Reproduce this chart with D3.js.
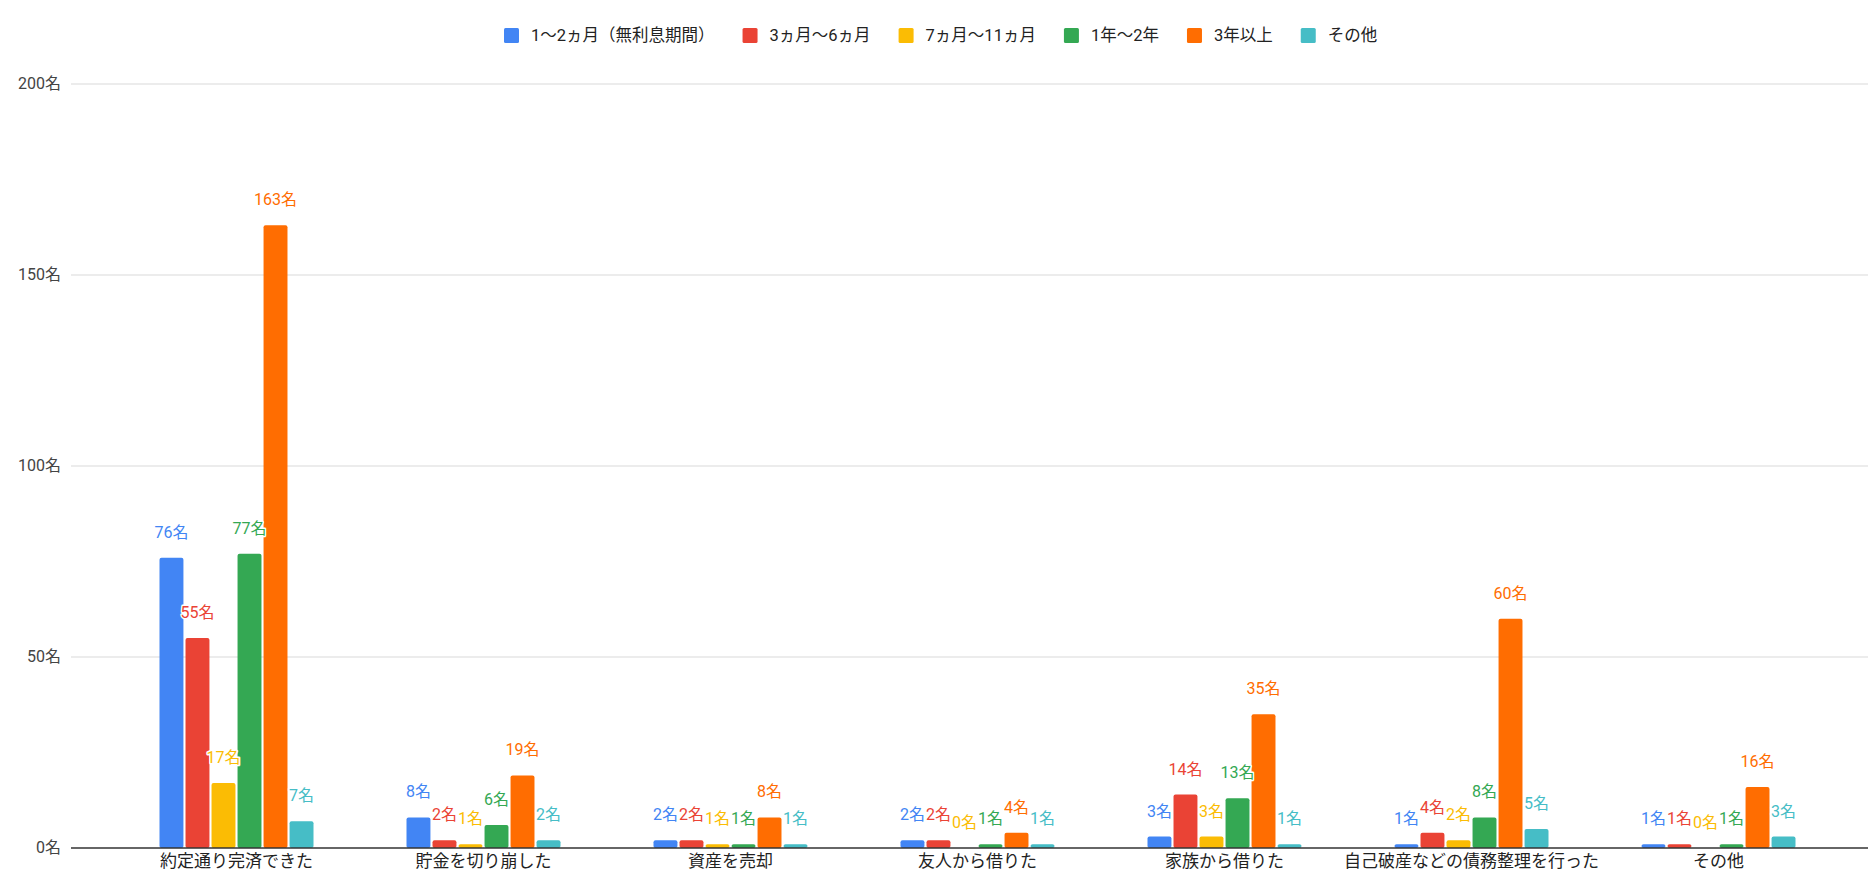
<!DOCTYPE html>
<html>
<head>
<meta charset="utf-8">
<script src="https://cdn.jsdelivr.net/npm/d3@7"></script>
<style>
  body { margin: 0; background: #fff; }
  svg { font-family: Roboto, Arial, "Noto Sans CJK JP", sans-serif; }
</style>
</head>
<body>
<svg id="chart"></svg>
<script>
const categories = [
  "約定通り完済できた",
  "貯金を切り崩した",
  "資産を売却",
  "友人から借りた",
  "家族から借りた",
  "自己破産などの債務整理を行った",
  "その他",
];
const seriesNames = [
  "1～2ヵ月（無利息期間）",
  "3ヵ月～6ヵ月",
  "7ヵ月～11ヵ月",
  "1年～2年",
  "3年以上",
  "その他",
];
const s1 = [76, 8, 2, 2, 3, 1, 1];
const s2 = [55, 2, 2, 2, 14, 4, 1];
const s3 = [17, 1, 1, 0, 3, 2, 0];
const s4 = [77, 6, 1, 1, 13, 8, 1];
const s5 = [163, 19, 8, 4, 35, 60, 16];
const s6 = [7, 2, 1, 1, 1, 5, 3];
const yTicks = [0, 50, 100, 150, 200];
const colors = ["#4285f4", "#ea4335", "#fbbc04", "#34a853", "#ff6d01", "#46bdc6"];

const seriesValues = [s1, s2, s3, s4, s5, s6];
const width = 1868;
const height = 872;
const gridLeft = 71;
const gridRight = 1868;

const svg = d3.select("#chart").attr("width", width).attr("height", height);

const x0 = d3.scaleBand().domain(categories).range([113, 1842]);
const x1 = d3
  .scaleBand()
  .domain(seriesNames)
  .range([0, 154])
  .paddingInner(0.08);
const y = d3.scaleLinear().domain([0, 200]).range([848, 84]);

// gridlines + y labels
const yAxis = svg.append("g").attr("class", "y-axis");
yAxis
  .selectAll("line")
  .data(yTicks.filter((d) => d > 0))
  .enter()
  .append("line")
  .attr("x1", gridLeft)
  .attr("x2", gridRight)
  .attr("y1", (d) => y(d))
  .attr("y2", (d) => y(d))
  .attr("stroke", "#d9d9d9")
  .attr("stroke-width", 1.2);
yAxis
  .selectAll("text")
  .data(yTicks)
  .enter()
  .append("text")
  .attr("x", 61)
  .attr("y", (d) => y(d) + 5)
  .attr("text-anchor", "end")
  .attr("font-size", 16)
  .attr("fill", "#444")
  .text((d) => d + "名");

// bars
const groups = svg
  .selectAll(".group")
  .data(categories)
  .enter()
  .append("g")
  .attr("class", "group")
  .attr("transform", (d) => `translate(${x0(d) + (x0.bandwidth() - 154) / 2},0)`);

groups
  .selectAll("rect")
  .data((d, i) => seriesNames.map((s, j) => ({ s, j, v: seriesValues[j][i] })))
  .enter()
  .append("rect")
  .filter((d) => d.v > 0)
  .attr("x", (d) => x1(d.s))
  .attr("y", (d) => y(d.v))
  .attr("width", x1.bandwidth())
  .attr("height", (d) => y(0) - y(d.v))
  .attr("rx", 2)
  .attr("fill", (d) => colors[d.j]);

groups
  .selectAll("text")
  .data((d, i) => seriesNames.map((s, j) => ({ s, j, v: seriesValues[j][i] })))
  .enter()
  .append("text")
  .attr("x", (d) => x1(d.s) + x1.bandwidth() / 2)
  .attr("y", (d) => y(d.v) - 20)
  .attr("text-anchor", "middle")
  .attr("font-size", 16)
  .attr("fill", (d) => colors[d.j])
  .attr("stroke", "#fff")
  .attr("stroke-width", 3)
  .attr("stroke-linejoin", "round")
  .attr("paint-order", "stroke")
  .text((d) => d.v + "名");

// x axis
svg
  .append("line")
  .attr("x1", gridLeft)
  .attr("x2", gridRight)
  .attr("y1", y(0))
  .attr("y2", y(0))
  .attr("stroke", "#333")
  .attr("stroke-width", 1.5);
svg
  .append("g")
  .selectAll("text")
  .data(categories)
  .enter()
  .append("text")
  .attr("x", (d) => x0(d) + x0.bandwidth() / 2)
  .attr("y", 867)
  .attr("text-anchor", "middle")
  .attr("font-size", 17)
  .attr("fill", "#222")
  .text((d) => d);

// legend
const legend = svg.append("g").attr("class", "legend");
let lx = 504;
seriesNames.forEach((name, i) => {
  legend
    .append("rect")
    .attr("x", lx)
    .attr("y", 28)
    .attr("width", 15)
    .attr("height", 15)
    .attr("rx", 1.5)
    .attr("fill", colors[i]);
  const t = legend
    .append("text")
    .attr("x", lx + 27)
    .attr("y", 41)
    .attr("font-size", 16.5)
    .attr("fill", "#222")
    .text(name);
  lx += 27 + t.node().getComputedTextLength() + 28;
});
</script>
</body>
</html>
